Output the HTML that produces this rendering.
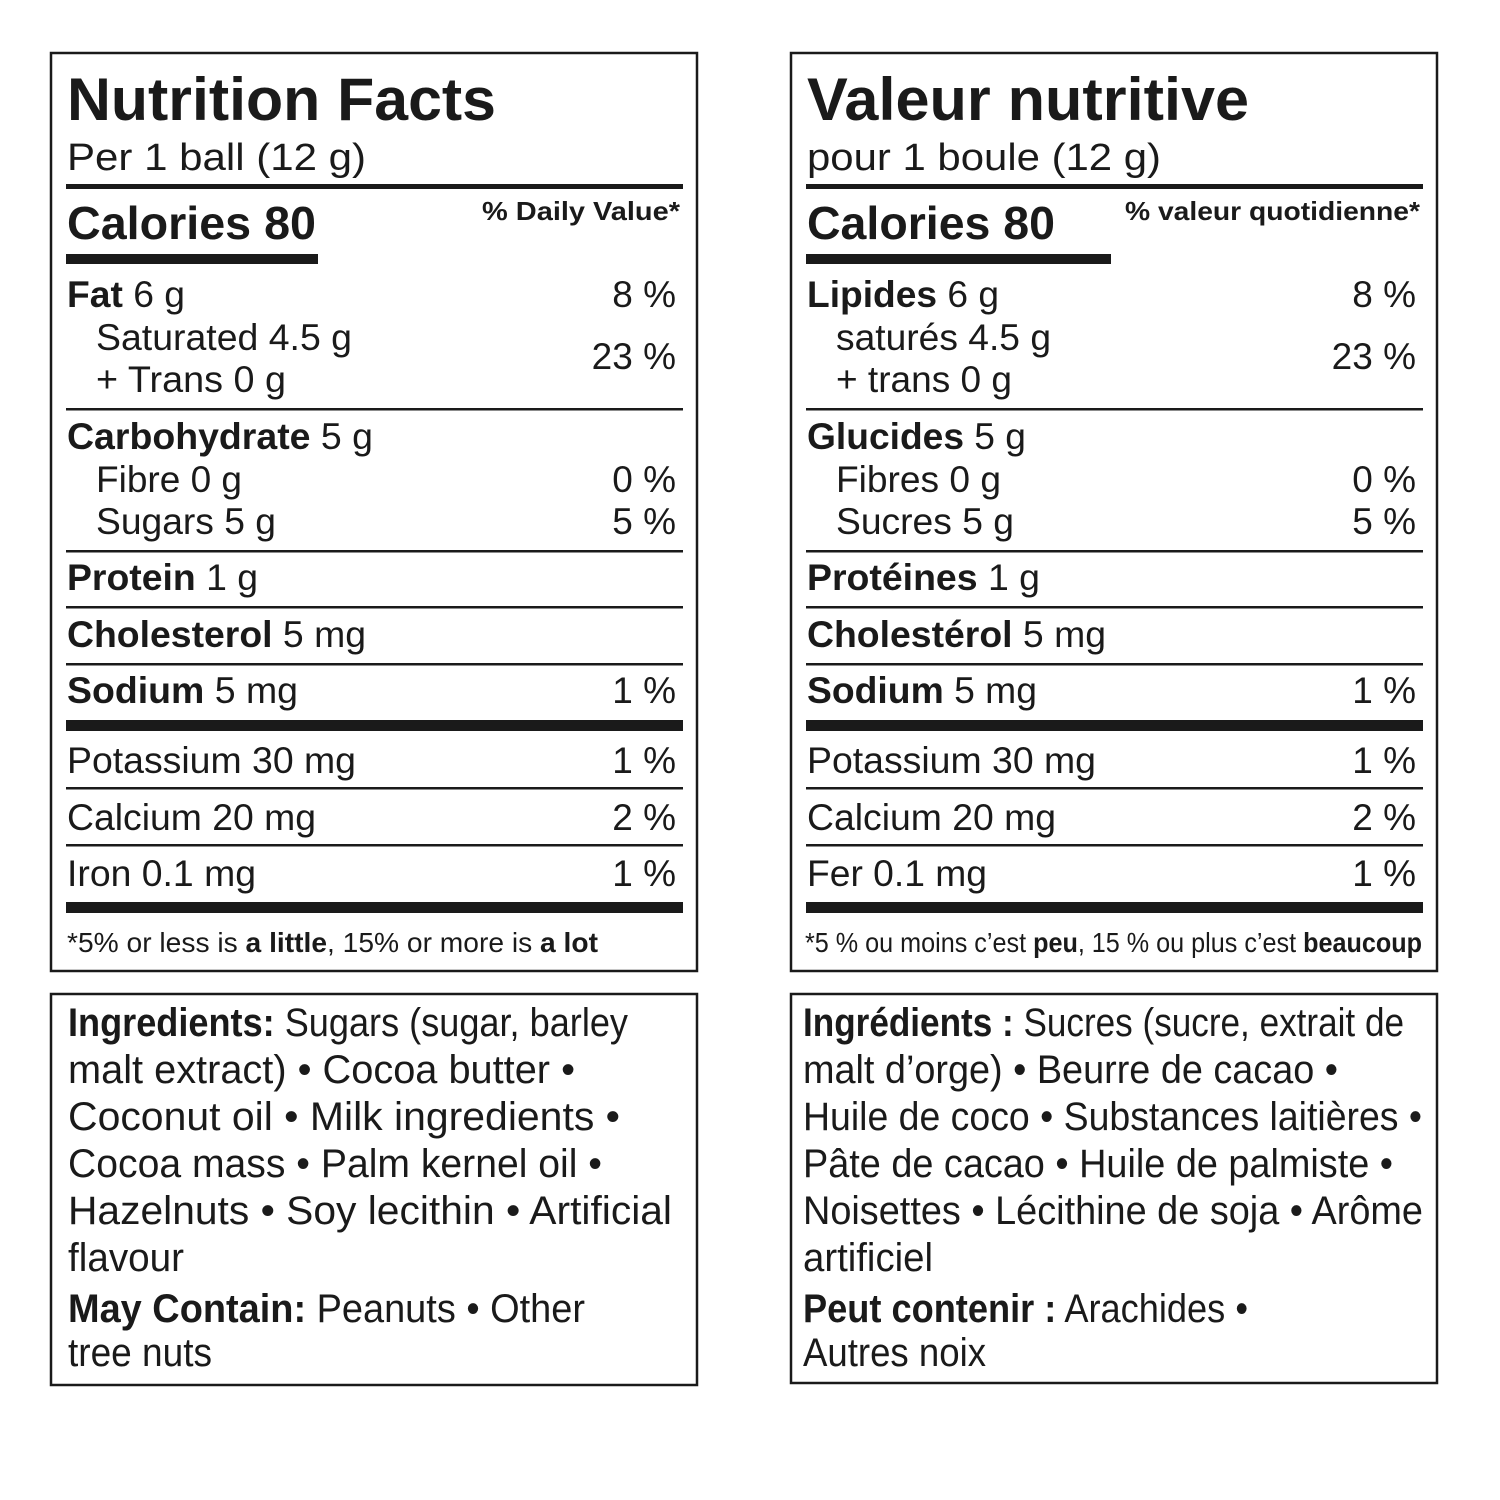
<!DOCTYPE html>
<html><head><meta charset="utf-8"><style>
html,body{margin:0;padding:0;background:#fff}
svg{display:block}
text{font-family:"Liberation Sans",sans-serif;fill:#1a1a1a}
.r{font-size:37px}
.b{font-weight:bold}
.ing{font-family:"Liberation Sans",sans-serif;font-size:40px}
</style></head><body>
<svg width="1500" height="1500" viewBox="0 0 1500 1500" xmlns="http://www.w3.org/2000/svg">
<g fill="none" stroke="#1a1a1a" stroke-width="2.5">
<rect x="51" y="53" width="646" height="918"/>
<rect x="791" y="53" width="646" height="918"/>
<rect x="51" y="994" width="646" height="391"/>
<rect x="791" y="994" width="646" height="389"/>
</g>
<g fill="#1a1a1a">
<rect x="66" y="184" width="617" height="5"/>
<rect x="66" y="254" width="252" height="10"/>
<rect x="66" y="408" width="617" height="2.5"/>
<rect x="66" y="550" width="617" height="2.5"/>
<rect x="66" y="606" width="617" height="2.5"/>
<rect x="66" y="663" width="617" height="2.5"/>
<rect x="66" y="720" width="617" height="11"/>
<rect x="66" y="787" width="617" height="2.5"/>
<rect x="66" y="844" width="617" height="2.5"/>
<rect x="66" y="902" width="617" height="11"/>
<rect x="806" y="184" width="617" height="5"/>
<rect x="806" y="254" width="305" height="10"/>
<rect x="806" y="408" width="617" height="2.5"/>
<rect x="806" y="550" width="617" height="2.5"/>
<rect x="806" y="606" width="617" height="2.5"/>
<rect x="806" y="663" width="617" height="2.5"/>
<rect x="806" y="720" width="617" height="11"/>
<rect x="806" y="787" width="617" height="2.5"/>
<rect x="806" y="844" width="617" height="2.5"/>
<rect x="806" y="902" width="617" height="11"/>
</g>
<!-- LEFT -->
<text x="67" y="120" class="b" font-size="60" textLength="429" lengthAdjust="spacingAndGlyphs">Nutrition Facts</text>
<text x="67" y="170" font-size="38" textLength="299" lengthAdjust="spacingAndGlyphs">Per 1 ball (12 g)</text>
<text x="67" y="239" class="b" font-size="46" textLength="249" lengthAdjust="spacingAndGlyphs">Calories 80</text>
<text x="482" y="220" class="b" font-size="26" textLength="198" lengthAdjust="spacingAndGlyphs">% Daily Value*</text>
<g class="r">
<text x="67" y="307" textLength="118" lengthAdjust="spacingAndGlyphs"><tspan class="b">Fat</tspan> 6 g</text>
<text x="96" y="350" textLength="256" lengthAdjust="spacingAndGlyphs">Saturated 4.5 g</text>
<text x="96" y="392" textLength="190" lengthAdjust="spacingAndGlyphs">+ Trans 0 g</text>
<text x="67" y="449" textLength="306" lengthAdjust="spacingAndGlyphs"><tspan class="b">Carbohydrate</tspan> 5 g</text>
<text x="96" y="492" textLength="146" lengthAdjust="spacingAndGlyphs">Fibre 0 g</text>
<text x="96" y="534" textLength="180" lengthAdjust="spacingAndGlyphs">Sugars 5 g</text>
<text x="67" y="590" textLength="191" lengthAdjust="spacingAndGlyphs"><tspan class="b">Protein</tspan> 1 g</text>
<text x="67" y="647" textLength="299" lengthAdjust="spacingAndGlyphs"><tspan class="b">Cholesterol</tspan> 5 mg</text>
<text x="67" y="703" textLength="231" lengthAdjust="spacingAndGlyphs"><tspan class="b">Sodium</tspan> 5 mg</text>
<text x="67" y="773" textLength="289" lengthAdjust="spacingAndGlyphs">Potassium 30 mg</text>
<text x="67" y="830" textLength="249" lengthAdjust="spacingAndGlyphs">Calcium 20 mg</text>
<text x="67" y="886" textLength="189" lengthAdjust="spacingAndGlyphs">Iron 0.1 mg</text>
<g text-anchor="end">
<text x="676" y="307">8 %</text>
<text x="676" y="369">23 %</text>
<text x="676" y="492">0 %</text>
<text x="676" y="534">5 %</text>
<text x="676" y="703">1 %</text>
<text x="676" y="773">1 %</text>
<text x="676" y="830">2 %</text>
<text x="676" y="886">1 %</text>
</g>
</g>
<text x="67" y="952" font-size="28" textLength="531" lengthAdjust="spacingAndGlyphs">*5% or less is <tspan class="b">a little</tspan>, 15% or more is <tspan class="b">a lot</tspan></text>
<!-- RIGHT -->
<text x="807" y="120" class="b" font-size="60" textLength="442" lengthAdjust="spacingAndGlyphs">Valeur nutritive</text>
<text x="807" y="170" font-size="38" textLength="354" lengthAdjust="spacingAndGlyphs">pour 1 boule (12 g)</text>
<text x="807" y="239" class="b" font-size="46" textLength="248" lengthAdjust="spacingAndGlyphs">Calories 80</text>
<text x="1125" y="220" class="b" font-size="26" textLength="295" lengthAdjust="spacingAndGlyphs">% valeur quotidienne*</text>
<g class="r">
<text x="807" y="307" textLength="192" lengthAdjust="spacingAndGlyphs"><tspan class="b">Lipides</tspan> 6 g</text>
<text x="836" y="350" textLength="215" lengthAdjust="spacingAndGlyphs">saturés 4.5 g</text>
<text x="836" y="392" textLength="176" lengthAdjust="spacingAndGlyphs">+ trans 0 g</text>
<text x="807" y="449" textLength="219" lengthAdjust="spacingAndGlyphs"><tspan class="b">Glucides</tspan> 5 g</text>
<text x="836" y="492" textLength="165" lengthAdjust="spacingAndGlyphs">Fibres 0 g</text>
<text x="836" y="534" textLength="178" lengthAdjust="spacingAndGlyphs">Sucres 5 g</text>
<text x="807" y="590" textLength="233" lengthAdjust="spacingAndGlyphs"><tspan class="b">Protéines</tspan> 1 g</text>
<text x="807" y="647" textLength="299" lengthAdjust="spacingAndGlyphs"><tspan class="b">Cholestérol</tspan> 5 mg</text>
<text x="807" y="703" textLength="230" lengthAdjust="spacingAndGlyphs"><tspan class="b">Sodium</tspan> 5 mg</text>
<text x="807" y="773" textLength="289" lengthAdjust="spacingAndGlyphs">Potassium 30 mg</text>
<text x="807" y="830" textLength="249" lengthAdjust="spacingAndGlyphs">Calcium 20 mg</text>
<text x="807" y="886" textLength="180" lengthAdjust="spacingAndGlyphs">Fer 0.1 mg</text>
<g text-anchor="end">
<text x="1416" y="307">8 %</text>
<text x="1416" y="369">23 %</text>
<text x="1416" y="492">0 %</text>
<text x="1416" y="534">5 %</text>
<text x="1416" y="703">1 %</text>
<text x="1416" y="773">1 %</text>
<text x="1416" y="830">2 %</text>
<text x="1416" y="886">1 %</text>
</g>
</g>
<text x="805" y="952" font-size="28" textLength="617" lengthAdjust="spacingAndGlyphs">*5 % ou moins c’est <tspan class="b">peu</tspan>, 15 % ou plus c’est <tspan class="b">beaucoup</tspan></text>
<!-- INGREDIENTS LEFT -->
<g class="ing">
<text x="68" y="1036" textLength="560" lengthAdjust="spacingAndGlyphs"><tspan class="b">Ingredients:</tspan> Sugars (sugar, barley</text>
<text x="68" y="1083" textLength="507" lengthAdjust="spacingAndGlyphs">malt extract) • Cocoa butter •</text>
<text x="68" y="1130" textLength="552" lengthAdjust="spacingAndGlyphs">Coconut oil • Milk ingredients •</text>
<text x="68" y="1177" textLength="534" lengthAdjust="spacingAndGlyphs">Cocoa mass • Palm kernel oil •</text>
<text x="68" y="1224" textLength="604" lengthAdjust="spacingAndGlyphs">Hazelnuts • Soy lecithin • Artificial</text>
<text x="68" y="1271" textLength="116" lengthAdjust="spacingAndGlyphs">flavour</text>
<text x="68" y="1322" textLength="517" lengthAdjust="spacingAndGlyphs"><tspan class="b">May Contain:</tspan> Peanuts • Other</text>
<text x="68" y="1366" textLength="144" lengthAdjust="spacingAndGlyphs">tree nuts</text>
<!-- INGREDIENTS RIGHT -->
<text x="803" y="1036" textLength="601" lengthAdjust="spacingAndGlyphs"><tspan class="b">Ingrédients :</tspan> Sucres (sucre, extrait de</text>
<text x="803" y="1083" textLength="535" lengthAdjust="spacingAndGlyphs">malt d’orge) • Beurre de cacao •</text>
<text x="803" y="1130" textLength="619" lengthAdjust="spacingAndGlyphs">Huile de coco • Substances laitières •</text>
<text x="803" y="1177" textLength="590" lengthAdjust="spacingAndGlyphs">Pâte de cacao • Huile de palmiste •</text>
<text x="803" y="1224" textLength="620" lengthAdjust="spacingAndGlyphs">Noisettes • Lécithine de soja • Arôme</text>
<text x="803" y="1271" textLength="130" lengthAdjust="spacingAndGlyphs">artificiel</text>
<text x="803" y="1322" textLength="445" lengthAdjust="spacingAndGlyphs"><tspan class="b">Peut contenir :</tspan> Arachides •</text>
<text x="803" y="1366" textLength="183" lengthAdjust="spacingAndGlyphs">Autres noix</text>
</g>
</svg>
</body></html>
